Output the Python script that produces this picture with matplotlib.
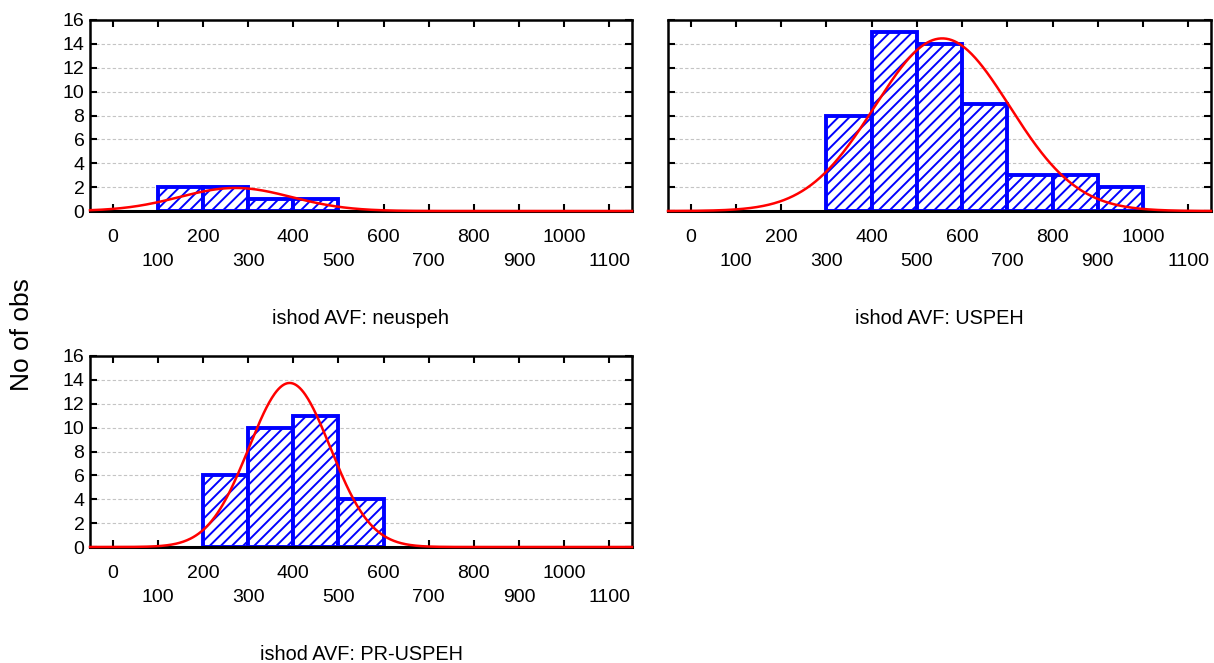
import matplotlib

matplotlib.use("Agg")
import matplotlib.pyplot as plt
import numpy as np

plt.rcParams["font.family"] = ["Liberation Sans", "DejaVu Sans"]
plt.rcParams["hatch.linewidth"] = 1.4

# histogram bins (left edges, width 100) and counts per group
bin_edges = [0, 100, 200, 300, 400, 500, 600, 700, 800, 900, 1000, 1100]
counts_neuspeh = [0, 2, 2, 1, 1, 0, 0, 0, 0, 0, 0]
counts_uspeh = [0, 0, 0, 8, 15, 14, 9, 3, 3, 2, 0]
counts_pr_uspeh = [0, 0, 6, 10, 11, 4, 0, 0, 0, 0, 0]

# fitted normal curves: mean, sd
fit_mean = [272, 556, 392]
fit_sd = [124, 149, 90]

titles = ["ishod AVF: neuspeh", "ishod AVF: USPEH", "ishod AVF: PR-USPEH"]
groups = [counts_neuspeh, counts_uspeh, counts_pr_uspeh]

W, H = 1214, 663
fig = plt.figure(figsize=(W / 100, H / 100), dpi=100)


def px_axes(l, t, r, b):
    return fig.add_axes([l / W, 1 - b / H, (r - l) / W, (b - t) / H])


axes = [px_axes(90, 20, 632, 211), px_axes(668, 20, 1211, 211),
        px_axes(90, 356, 632, 547)]

edges = np.asarray(bin_edges, dtype=float)
width = 100.0
xs = np.linspace(-50, 1150, 600)

for i, (ax, cnt, title) in enumerate(zip(axes, groups, titles)):
    cnt = np.asarray(cnt, dtype=float)
    n = cnt.sum()
    mask = cnt > 0
    ax.bar(edges[:-1][mask], cnt[mask], width=width, align="edge",
           facecolor="white", edgecolor="#0000ff", linewidth=2.8,
           hatch="///", zorder=2)
    m, s = fit_mean[i], fit_sd[i]
    curve = n * width / (s * np.sqrt(2 * np.pi)) * np.exp(-0.5 * ((xs - m) / s) ** 2)
    ax.plot(xs, curve, color="red", lw=1.8, zorder=3, clip_on=False)

    ax.set_xlim(-50, 1150)
    ax.set_ylim(0, 16)
    ax.set_yticks(np.arange(0, 17, 2))
    ax.set_xticks(np.arange(0, 1001, 200))
    ax.set_xticks(np.arange(100, 1101, 200), minor=True)
    ax.set_xticklabels([str(v) for v in range(0, 1001, 200)])
    ax.set_xticklabels([str(v) for v in range(100, 1101, 200)], minor=True)
    ax.tick_params(axis="both", which="both", direction="in", top=True,
                   right=True, length=5, width=1.5, labelsize=14)
    ax.tick_params(axis="x", which="major", pad=13)
    ax.tick_params(axis="x", which="minor", pad=30)
    ax.tick_params(axis="y", pad=4)
    if i == 1:
        ax.tick_params(axis="y", labelleft=False)
    ax.yaxis.grid(True, linestyle=(0, (3, 2)), color="#c4c4c4", lw=0.8)
    ax.set_axisbelow(True)
    for sp in ax.spines.values():
        sp.set_linewidth(1.8)
    ax.spines["bottom"].set_linewidth(2.2)
    ax.text(0.5, -0.59, title, transform=ax.transAxes, ha="center",
            va="baseline", fontsize=14.3)

fig.text(22 / W, 1 - 335 / H, "No of obs", rotation=90, ha="center",
         va="center", fontsize=19)

fig.savefig("out.png", dpi=100)
